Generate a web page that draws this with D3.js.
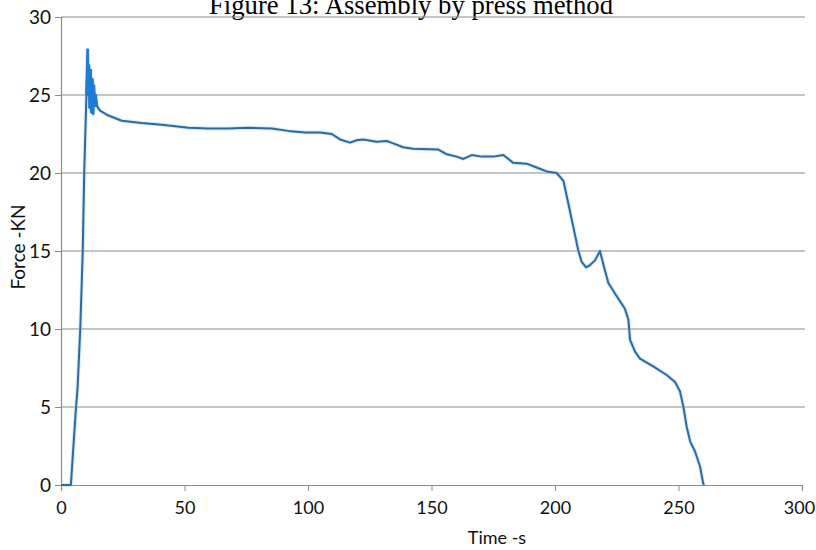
<!DOCTYPE html>
<html>
<head>
<meta charset="utf-8">
<script src="https://cdn.jsdelivr.net/npm/d3@7"></script>
<style>
  body { margin: 0; background: #fff; }
  svg { display: block; }
</style>
</head>
<body>
<div id="chartArea"><svg id="chart"></svg></div>
<script>
// press-fit force record
const timeS = [0, 4, 6.0, 6.7, 7.8, 8.8, 9.4, 10.3, 10.8, 11.0, 11.3, 11.6, 12.0, 12.3, 12.7, 13.0, 13.3, 13.7, 14.0, 14.5,
  15.8, 19, 24.6, 32.7, 40.8, 51.6, 59.6, 67.7, 75.8, 85.3, 92, 98.8, 104.9, 109.6, 113, 117, 119.7, 122.4, 127.8, 131.9,
  134.5, 138.6, 142.6, 152.8, 156.2, 160.2, 162.9, 166.3, 170.3, 175, 179.1, 183.1, 188.5, 192.6, 196.6, 200.7, 203.4,
  205.4, 207.4, 209.4, 210.8, 212.6, 214.2, 216.2, 218.2, 219.8, 221.6, 225, 228.3, 229.7, 230.4, 232.4, 234.4, 239.8,
  245.2, 248.6, 250.6, 252, 253.3, 254.7, 256.7, 258.7, 260, 260.3]
const forceKN = [0, 0, 4.8, 6.2, 10, 15, 20, 25, 27.9, 25.0, 26.9, 24.2, 26.6, 23.9, 26.0, 23.8, 25.6, 24.3, 25.0, 24.3,
  24.0, 23.7, 23.35, 23.2, 23.1, 22.9, 22.85, 22.85, 22.9, 22.85, 22.7, 22.6, 22.6, 22.5, 22.15, 21.95, 22.1, 22.15, 22.0, 22.05,
  21.9, 21.65, 21.55, 21.5, 21.2, 21.05, 20.9, 21.15, 21.05, 21.05, 21.15, 20.65, 20.6, 20.35, 20.1, 20.0, 19.5,
  18.05, 16.55, 15.05, 14.3, 13.95, 14.1, 14.4, 15.0, 14.0, 12.95, 12.1, 11.3, 10.6, 9.3, 8.55, 8.1, 7.6,
  7.05, 6.6, 6.0, 5.0, 3.75, 2.8, 2.15, 1.2, 0.1, 0]
const xTicks = [0, 50, 100, 150, 200, 250, 300]
const yTicks = [0, 5, 10, 15, 20, 25, 30]

const data = timeS.map((t, i) => ({t: t, f: forceKN[i]}))
// the chattering part right after the peak is drawn brighter in the scan
const spike = data.filter(d => d.t >= 10.3 && d.t <= 14.5)

const W = 816, H = 550
const margin = {top: 17, right: 14, bottom: 65, left: 61}
const labelFont = 'Lato, "Open Sans", sans-serif'

const svg = d3.select('#chart')
  .attr('width', W)
  .attr('height', H)

const x = d3.scaleLinear().domain([0, 300]).range([margin.left, W - margin.right])
const y = d3.scaleLinear().domain([0, 30]).range([H - margin.bottom, margin.top])

// title, cut off at the top like the scan
svg.append('text')
  .attr('x', 411)
  .attr('y', 14)
  .attr('text-anchor', 'middle')
  .style('font-family', '"Liberation Serif", "Times New Roman", serif')
  .style('font-size', '26.7px')
  .text('Figure 13: Assembly by press method')

// horizontal grid
svg.append('g')
  .selectAll('line')
  .data(yTicks.filter(d => d > 0))
  .join('line')
    .attr('x1', x(0))
    .attr('x2', x(300) + 3)
    .attr('y1', d => y(d))
    .attr('y2', d => y(d))
    .attr('stroke', '#8c8c8c')
    .attr('stroke-width', 1.2)

// y axis
const yAxis = svg.append('g')
  .attr('transform', `translate(${x(0)},0)`)
  .call(d3.axisLeft(y).tickValues(yTicks).tickSize(6).tickPadding(4))
yAxis.select('.domain').attr('stroke', '#8c8c8c').attr('stroke-width', 1.2)
yAxis.selectAll('.tick line').attr('stroke', '#8c8c8c')
yAxis.selectAll('text')
  .style('font-family', labelFont)
  .style('font-size', '19px')
  .attr('fill', '#111')

// x axis
const xAxis = svg.append('g')
  .attr('transform', `translate(0,${y(0)})`)
  .call(d3.axisBottom(x).tickValues(xTicks).tickSize(6).tickPadding(10))
xAxis.select('.domain').attr('stroke', '#8c8c8c').attr('stroke-width', 1.2)
xAxis.selectAll('.tick line').attr('stroke', '#8c8c8c')
xAxis.selectAll('text')
  .style('font-family', labelFont)
  .style('font-size', '18px')
  .attr('fill', '#111')
// last label sits right at the edge of the picture
xAxis.selectAll('.tick text').filter(d => d === 300).attr('dx', -3)

// axis titles
svg.append('text')
  .attr('x', 497)
  .attr('y', 544)
  .attr('text-anchor', 'middle')
  .style('font-family', labelFont)
  .style('font-size', '18px')
  .attr('fill', '#111')
  .text('Time -s')

svg.append('text')
  .attr('transform', 'translate(25,247) rotate(-90)')
  .attr('text-anchor', 'middle')
  .style('font-family', labelFont)
  .style('font-size', '19px')
  .attr('fill', '#111')
  .text('Force -KN')

// force trace
const line = d3.line()
  .x(d => x(d.t))
  .y(d => y(d.f))

svg.append('path')
  .datum(data)
  .attr('d', line)
  .attr('fill', 'none')
  .attr('stroke', '#a9d8f5')
  .attr('stroke-width', 4)
  .attr('stroke-linejoin', 'round')
  .attr('opacity', 0.5)

svg.append('path')
  .datum(data)
  .attr('d', line)
  .attr('fill', 'none')
  .attr('stroke', '#2f6a9e')
  .attr('stroke-width', 2)
  .attr('stroke-linejoin', 'round')

svg.append('path')
  .datum(spike)
  .attr('d', line)
  .attr('fill', 'none')
  .attr('stroke', '#1f7bd6')
  .attr('stroke-width', 2.6)
  .attr('stroke-linejoin', 'round')
</script>
</body>
</html>
